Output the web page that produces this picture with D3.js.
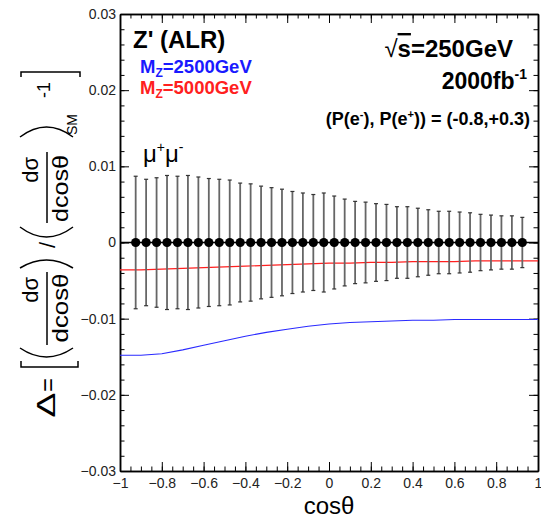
<!DOCTYPE html>
<html>
<head>
<meta charset="utf-8">
<script src="https://cdn.jsdelivr.net/npm/d3@7"></script>
<style>
  body { margin: 0; background: #fff; }
  text { font-family: "Liberation Sans", Arial, Helvetica, sans-serif; }
</style>
</head>
<body>
<div id="chart"></div>
<script>
// bin centres of the pseudo-data (cos theta)
const binCenters = [-0.925, -0.875, -0.825, -0.775, -0.725, -0.675, -0.625, -0.575, -0.525, -0.475,
  -0.425, -0.375, -0.325, -0.275, -0.225, -0.175, -0.125, -0.075, -0.025, 0.025,
  0.075, 0.125, 0.175, 0.225, 0.275, 0.325, 0.375, 0.425, 0.475, 0.525,
  0.575, 0.625, 0.675, 0.725, 0.775, 0.825, 0.875, 0.925];
const smPoints = [0, 0, 0, 0, 0, 0, 0, 0, 0, 0, 0, 0, 0, 0, 0, 0, 0, 0, 0,
  0, 0, 0, 0, 0, 0, 0, 0, 0, 0, 0, 0, 0, 0, 0, 0, 0, 0, 0];
const statErrors = [0.0087, 0.0083, 0.0085, 0.0088, 0.0087, 0.0088, 0.0086, 0.0084, 0.0083, 0.0082,
  0.0078, 0.0077, 0.0074, 0.0072, 0.0070, 0.0067, 0.0065, 0.0063, 0.0065, 0.0061,
  0.0057, 0.0054, 0.0053, 0.0051, 0.0050, 0.0047, 0.0047, 0.0045, 0.0043, 0.0041,
  0.0041, 0.0040, 0.0039, 0.0037, 0.0036, 0.0035, 0.0035, 0.0033];

// Z' predictions
const curveX = [-1, -0.9, -0.8, -0.7, -0.6, -0.5, -0.4, -0.3, -0.2, -0.1, 0,
  0.1, 0.2, 0.3, 0.4, 0.5, 0.6, 0.7, 0.8, 0.9, 1];
const mz2500 = [-0.0148, -0.0148, -0.0146, -0.0141, -0.0135, -0.0129, -0.0123, -0.0118, -0.0114, -0.0110, -0.0107,
  -0.0105, -0.0104, -0.0103, -0.0102, -0.0102, -0.0101, -0.0101, -0.0101, -0.0101, -0.0101];
const mz5000 = [-0.0036, -0.0036, -0.0035, -0.0034, -0.0033, -0.0032, -0.0031, -0.0030, -0.0029, -0.0028, -0.0027,
  -0.0027, -0.0026, -0.0026, -0.0025, -0.0025, -0.0025, -0.0024, -0.0024, -0.0024, -0.0024];

const xTicks = [-1, -0.8, -0.6, -0.4, -0.2, 0, 0.2, 0.4, 0.6, 0.8, 1];
const yTicks = [-0.03, -0.02, -0.01, 0, 0.01, 0.02, 0.03];

const width = 541;
const height = 519;
const margin = { top: 14, right: 3, bottom: 48, left: 120 };

const svg = d3.select('#chart')
  .append('svg')
  .attr('width', width)
  .attr('height', height);

svg.append('rect').attr('width', width).attr('height', height).attr('fill', '#fff');

const x = d3.scaleLinear()
  .domain([-1, 1])
  .range([margin.left, width - margin.right]);

const y = d3.scaleLinear()
  .domain([-0.03, 0.03])
  .range([height - margin.bottom, margin.top]);

const font = '"Liberation Sans", Arial, Helvetica, sans-serif';
const fmtY = d => d === 0 ? '0' : d3.format('.2f')(d);
const fmtX = d => (d === 0 || Math.abs(d) === 1) ? d3.format('d')(d) : d3.format('.1f')(d);

// minor ticks (every 0.05 in x, 0.002 in y)
const xMinor = d3.range(-1, 1.0001, 0.05).map(v => +v.toFixed(2));
const yMinor = d3.range(-0.03, 0.03001, 0.002).map(v => +v.toFixed(3));

function styleAxis(g) {
  g.attr('font-family', font).attr('font-size', 14);
  g.select('.domain').attr('stroke', '#000').attr('stroke-width', 1.5);
  g.selectAll('.tick line').attr('stroke', '#000').attr('stroke-width', 1);
  g.selectAll('.tick text').attr('fill', '#222');
}

// bottom
svg.append('g')
  .attr('transform', `translate(0,${y(-0.03)})`)
  .call(d3.axisBottom(x).tickValues(xMinor).tickSize(-4.5).tickSizeOuter(0).tickFormat(''))
  .call(styleAxis);
svg.append('g')
  .attr('transform', `translate(0,${y(-0.03)})`)
  .call(d3.axisBottom(x).tickValues(xTicks).tickSize(-9).tickSizeOuter(0).tickPadding(7).tickFormat(fmtX))
  .call(styleAxis);
// top
svg.append('g')
  .attr('transform', `translate(0,${y(0.03)})`)
  .call(d3.axisTop(x).tickValues(xMinor).tickSize(-4.5).tickSizeOuter(0).tickFormat(''))
  .call(styleAxis);
svg.append('g')
  .attr('transform', `translate(0,${y(0.03)})`)
  .call(d3.axisTop(x).tickValues(xTicks).tickSize(-9).tickSizeOuter(0).tickFormat(''))
  .call(styleAxis);
// left
svg.append('g')
  .attr('transform', `translate(${x(-1)},0)`)
  .call(d3.axisLeft(y).tickValues(yMinor).tickSize(-4.5).tickSizeOuter(0).tickFormat(''))
  .call(styleAxis);
svg.append('g')
  .attr('transform', `translate(${x(-1)},0)`)
  .call(d3.axisLeft(y).tickValues(yTicks).tickSize(-9).tickSizeOuter(0).tickPadding(4).tickFormat(fmtY))
  .call(styleAxis);
// right
svg.append('g')
  .attr('transform', `translate(${x(1)},0)`)
  .call(d3.axisRight(y).tickValues(yMinor).tickSize(-4.5).tickSizeOuter(0).tickFormat(''))
  .call(styleAxis);
svg.append('g')
  .attr('transform', `translate(${x(1)},0)`)
  .call(d3.axisRight(y).tickValues(yTicks).tickSize(-9).tickSizeOuter(0).tickFormat(''))
  .call(styleAxis);

// x axis title
svg.append('text')
  .attr('x', (x(-1) + x(1)) / 2)
  .attr('y', 514)
  .attr('text-anchor', 'middle')
  .attr('font-size', 24)
  .text('cosθ');

// model curves
const line = d3.line().x(d => x(d[0])).y(d => y(d[1]));
svg.append('path')
  .datum(curveX.map((c, i) => [c, mz5000[i]]))
  .attr('d', line)
  .attr('fill', 'none')
  .attr('stroke', '#ff2020')
  .attr('stroke-width', 1.2);
svg.append('path')
  .datum(curveX.map((c, i) => [c, mz2500[i]]))
  .attr('d', line)
  .attr('fill', 'none')
  .attr('stroke', '#2a2aff')
  .attr('stroke-width', 1.1);

// SM reference line at zero
svg.append('line')
  .attr('x1', x(-1)).attr('x2', x(1))
  .attr('y1', y(0)).attr('y2', y(0))
  .attr('stroke', '#000')
  .attr('stroke-width', 1.5);

// error bars
const pts = binCenters.map((c, i) => ({ c: c, v: smPoints[i], e: statErrors[i] }));
const bars = svg.append('g');
bars.selectAll('line.err')
  .data(pts)
  .join('line')
  .attr('class', 'err')
  .attr('x1', d => x(d.c)).attr('x2', d => x(d.c))
  .attr('y1', d => y(d.v + d.e)).attr('y2', d => y(d.v - d.e))
  .attr('stroke', '#666')
  .attr('stroke-width', 1.8);
bars.selectAll('line.capT')
  .data(pts)
  .join('line')
  .attr('class', 'capT')
  .attr('x1', d => x(d.c) - 2).attr('x2', d => x(d.c) + 2)
  .attr('y1', d => y(d.v + d.e)).attr('y2', d => y(d.v + d.e))
  .attr('stroke', '#333').attr('stroke-width', 1.2);
bars.selectAll('line.capB')
  .data(pts)
  .join('line')
  .attr('class', 'capB')
  .attr('x1', d => x(d.c) - 2).attr('x2', d => x(d.c) + 2)
  .attr('y1', d => y(d.v - d.e)).attr('y2', d => y(d.v - d.e))
  .attr('stroke', '#333').attr('stroke-width', 1.2);
bars.selectAll('circle')
  .data(pts)
  .join('circle')
  .attr('cx', d => x(d.c))
  .attr('cy', d => y(d.v))
  .attr('r', 4.6)
  .attr('fill', '#000');

// labels inside the frame
svg.append('text')
  .attr('x', 133).attr('y', 48)
  .attr('font-size', 24).attr('font-weight', 'bold')
  .text("Z' (ALR)");

function massLabel(yPos, colour, mass) {
  const t = svg.append('text')
    .attr('x', 140).attr('y', yPos)
    .attr('font-size', 18.5).attr('font-weight', 'bold')
    .attr('fill', colour);
  t.append('tspan').text('M');
  t.append('tspan').attr('font-size', 12).attr('dy', 4).text('Z');
  t.append('tspan').attr('dy', -4).text('=' + mass + 'GeV');
}
massLabel(73, '#1a1aff', 2500);
massLabel(94, '#ff2020', 5000);

const sqrtS = svg.append('text')
  .attr('x', 513).attr('y', 57)
  .attr('text-anchor', 'end')
  .attr('font-size', 24).attr('font-weight', 'bold');
sqrtS.append('tspan').attr('font-weight', 'normal').text('√');
sqrtS.append('tspan').attr('text-decoration', 'overline').text('s');
sqrtS.append('tspan').text('=250GeV');

const lumi = svg.append('text')
  .attr('x', 527).attr('y', 89)
  .attr('text-anchor', 'end')
  .attr('font-size', 23).attr('font-weight', 'bold');
lumi.append('tspan').text('2000fb');
lumi.append('tspan').attr('font-size', 14).attr('dy', -10).text('-1');

const pol = svg.append('text')
  .attr('x', 530).attr('y', 125)
  .attr('text-anchor', 'end')
  .attr('font-size', 18).attr('font-weight', 'bold');
pol.append('tspan').text('(P(e');
pol.append('tspan').attr('font-size', 11).attr('dy', -7).text('-');
pol.append('tspan').attr('dy', 7).text('), P(e');
pol.append('tspan').attr('font-size', 11).attr('dy', -7).text('+');
pol.append('tspan').attr('dy', 7).text(')) = (-0.8,+0.3)');

const mumu = svg.append('text')
  .attr('x', 143).attr('y', 162)
  .attr('font-size', 24);
mumu.append('tspan').text('μ');
mumu.append('tspan').attr('font-size', 14).attr('dy', -10).text('+');
mumu.append('tspan').attr('dy', 10).text('μ');
mumu.append('tspan').attr('font-size', 14).attr('dy', -10).text('-');

// y axis title, built piece by piece and rotated
const yt = svg.append('g');
function rotText(px, py, str, size, anchor) {
  return yt.append('text')
    .attr('transform', `translate(${px},${py}) rotate(-90)`)
    .attr('text-anchor', anchor || 'middle')
    .attr('font-size', size)
    .text(str);
}
function strokePath(d) {
  yt.append('path').attr('d', d).attr('fill', 'none')
    .attr('stroke', '#000').attr('stroke-width', 1.5);
}
rotText(55, 405, 'Δ', 26).attr('textLength', 25).attr('lengthAdjust', 'spacingAndGlyphs');
rotText(56, 385, '=', 24);
strokePath('M21,361 L21,367 L78,367 L78,361');
strokePath('M20,348 Q46.5,366 73,348');
rotText(38, 277, 'dσ', 22, 'end');
strokePath('M47,272 L47,345');
rotText(68, 308, 'dcosθ', 22).attr('textLength', 69).attr('lengthAdjust', 'spacingAndGlyphs');
strokePath('M20,268 Q46.5,252 73,268');
rotText(55, 245, '/', 22);
strokePath('M20,227 Q46.5,247 73,227');
rotText(38, 157, 'dσ', 22, 'end');
strokePath('M47,152 L47,223');
rotText(68, 188.5, 'dcosθ', 22).attr('textLength', 67).attr('lengthAdjust', 'spacingAndGlyphs');
strokePath('M20,137 Q46.5,117 73,137');
rotText(77, 124.5, 'SM', 14);
rotText(50, 90, '-1', 18);
strokePath('M21,77 L21,72 L80,72 L80,77');
</script>
</body>
</html>
